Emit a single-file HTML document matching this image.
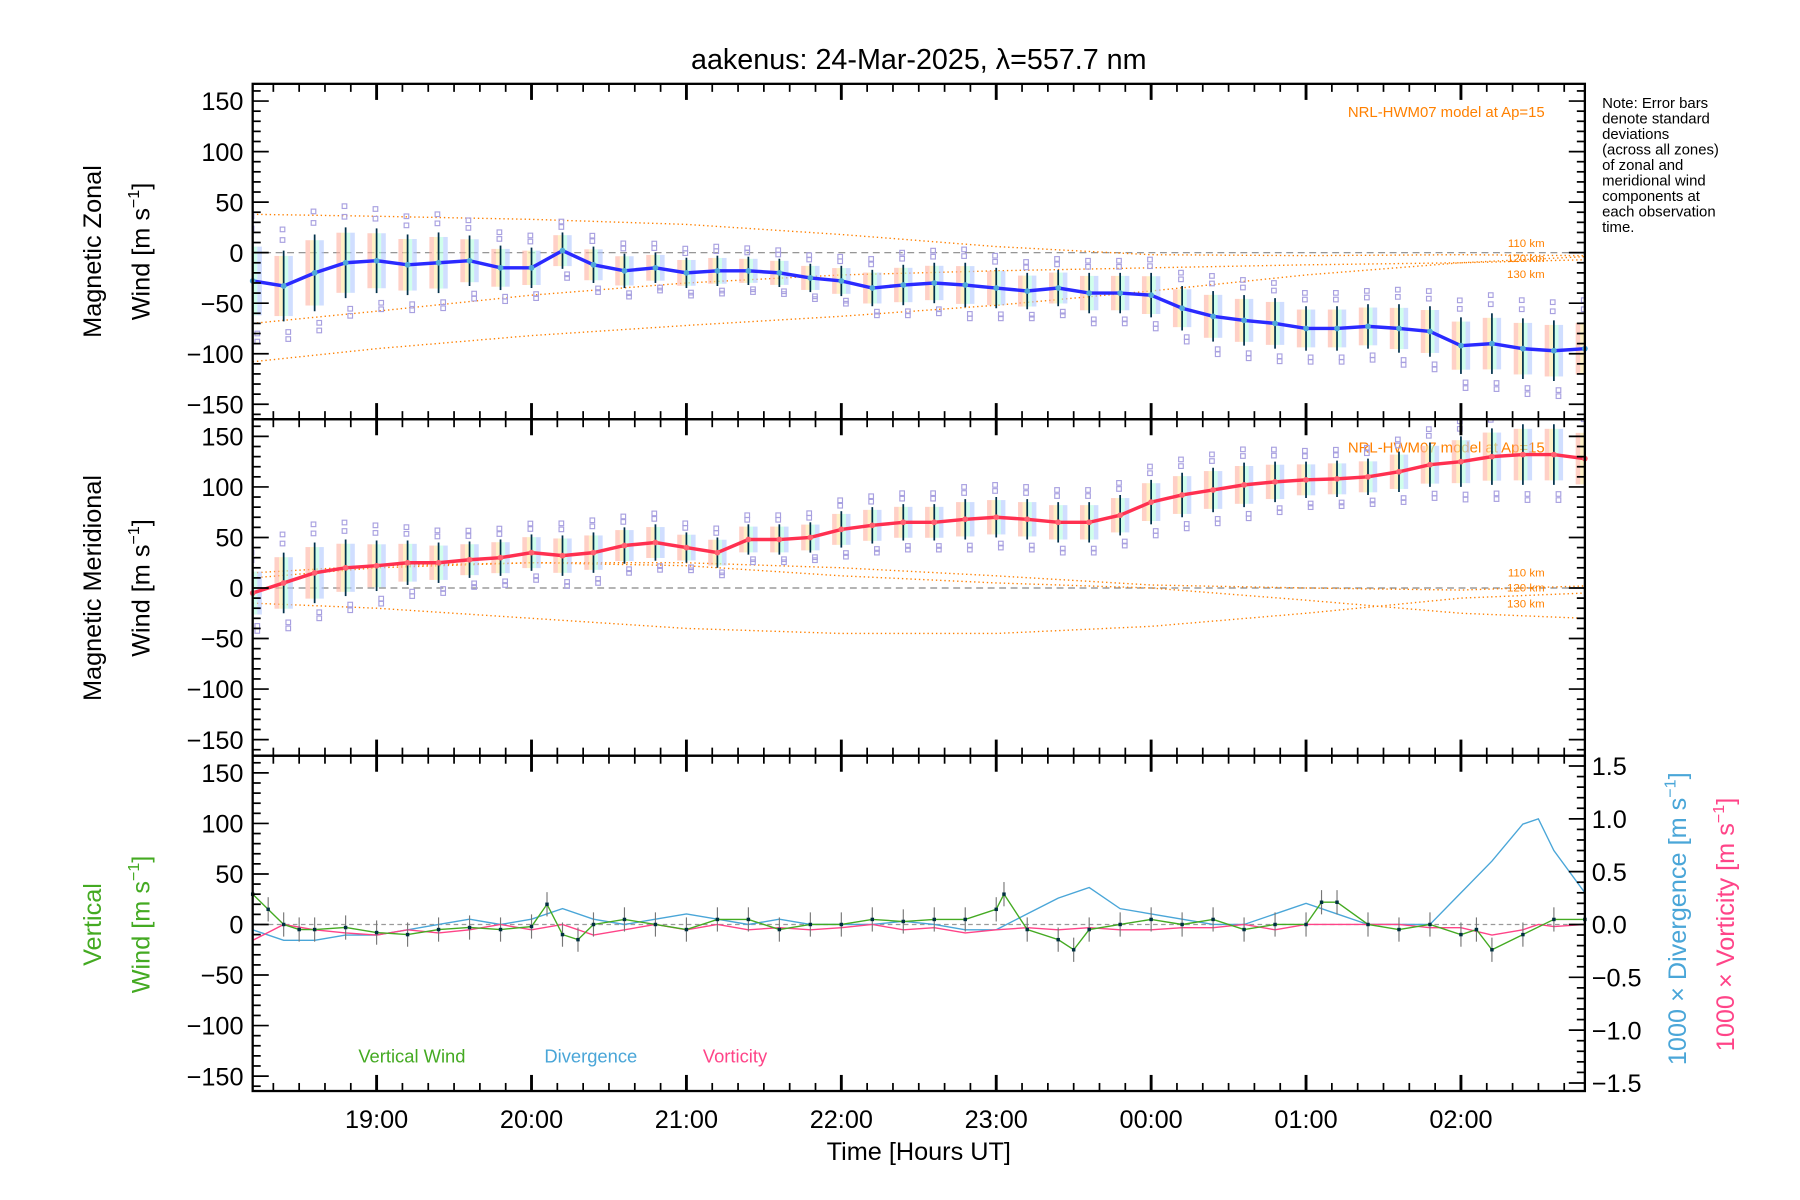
<!DOCTYPE html>
<html><head><meta charset="utf-8"><style>
html,body{margin:0;padding:0;background:#fff;}
svg{display:block;font-family:"Liberation Sans",sans-serif;}
</style></head><body>
<svg id="chart" width="1800" height="1200" viewBox="0 0 1567.3 1044.9" xmlns="http://www.w3.org/2000/svg">
<rect width="1568" height="1045" fill="#fff"/>
<text x="800" y="60" font-size="25" text-anchor="middle">aakenus: 24-Mar-2025, λ=557.7 nm</text>
<g id="layer"></g>
<text font-size="13" x="1395" y="94"><tspan x="1395" dy="0">Note: Error bars</tspan><tspan x="1395" dy="13.5">denote standard</tspan><tspan x="1395" dy="13.5">deviations</tspan><tspan x="1395" dy="13.5">(across all zones)</tspan><tspan x="1395" dy="13.5">of zonal and</tspan><tspan x="1395" dy="13.5">meridional wind</tspan><tspan x="1395" dy="13.5">components at</tspan><tspan x="1395" dy="13.5">each observation</tspan><tspan x="1395" dy="13.5">time.</tspan></text>
</svg>
<script>
// ---- data ----
const obsTimes = [18.2,18.4,18.6,18.8,19.0,19.2,19.4,19.6,19.8,20.0,20.2,20.4,20.6,20.8,21.0,21.2,21.4,21.6,21.8,22.0,22.2,22.4,22.6,22.8,23.0,23.2,23.4,23.6,23.8,24.0,24.2,24.4,24.6,24.8,25.0,25.2,25.4,25.6,25.8,26.0,26.2,26.4,26.6,26.8];
const zonalMean = [-28,-33,-20,-10,-8,-12,-10,-8,-15,-15,2,-12,-18,-15,-20,-18,-18,-20,-25,-28,-35,-32,-30,-32,-35,-38,-35,-40,-40,-42,-55,-63,-67,-70,-75,-75,-73,-75,-78,-92,-90,-95,-97,-95];
const zonalSd = [40,35,38,35,32,30,30,25,22,20,18,18,17,15,15,15,14,14,14,15,18,20,20,22,20,18,18,20,20,22,22,25,25,25,22,22,22,24,25,28,30,30,30,30];
const meridMean = [-5,5,15,20,22,25,25,28,30,35,32,35,42,45,40,35,48,48,50,58,62,65,65,68,70,68,65,65,72,85,92,97,102,105,107,108,110,115,122,125,130,132,132,128];
const meridSd = [25,30,30,28,25,22,20,18,18,18,20,20,18,18,15,15,15,15,15,18,18,18,18,20,20,20,20,20,20,22,22,22,22,20,18,18,18,20,22,25,28,30,30,30];
const vertTimes = [18.2,18.3,18.4,18.5,18.6,18.8,19.0,19.2,19.4,19.6,19.8,20.0,20.1,20.2,20.3,20.4,20.6,20.8,21.0,21.2,21.4,21.6,21.8,22.0,22.2,22.4,22.6,22.8,23.0,23.05,23.2,23.4,23.5,23.6,23.8,24.0,24.2,24.4,24.6,24.8,25.0,25.1,25.2,25.4,25.6,25.8,26.0,26.1,26.2,26.4,26.6,26.8];
const vertWind = [30,15,0,-5,-5,-3,-8,-10,-5,-3,-5,-2,20,-10,-15,0,5,0,-5,5,5,-5,0,0,5,3,5,5,15,30,-5,-15,-25,-5,0,5,0,5,-5,0,0,22,22,0,-5,0,-10,-5,-25,-10,5,5];
const divTimes = [18.2,18.4,18.6,18.8,19.0,19.2,19.4,19.6,19.8,20.0,20.2,20.4,20.6,20.8,21.0,21.2,21.4,21.6,21.8,22.0,22.2,22.4,22.6,22.8,23.0,23.2,23.4,23.6,23.8,24.0,24.2,24.4,24.6,24.8,25.0,25.2,25.4,25.6,25.8,26.0,26.2,26.4,26.5,26.6,26.8];
const divergence = [-0.05,-0.15,-0.15,-0.1,-0.1,-0.05,0,0.05,0,0.05,0.15,0.05,0,0.05,0.1,0.05,0,0.05,0,0,0,0.03,0,-0.05,-0.05,0.1,0.25,0.35,0.15,0.1,0.05,0,0,0.1,0.2,0.1,0,0,0,0.3,0.6,0.95,1.0,0.7,0.3];
const vorticity = [-0.15,0,-0.05,-0.08,-0.1,-0.05,-0.08,-0.05,0,-0.05,0,-0.1,-0.05,0,-0.05,0,-0.05,-0.03,-0.05,-0.03,0,-0.05,-0.03,-0.08,-0.05,-0.03,-0.05,-0.03,-0.05,-0.05,-0.03,-0.03,0,-0.05,0,0,0,0,-0.03,-0.03,-0.1,-0.05,0,-0.02,0];
const hwmTimes = [18.2,19.0,20.0,21.0,22.0,23.0,24.0,25.0,26.0,26.8];
const hwmZ110 = [38,36,33,28,18,6,-2,-3,-2,-3];
const hwmZ120 = [-70,-58,-42,-30,-22,-18,-15,-12,-10,-7];
const hwmZ130 = [-108,-95,-82,-72,-63,-52,-38,-22,-10,-4];
const hwmM110 = [15,22,25,25,20,12,3,0,-2,2];
const hwmM120 = [10,20,25,22,12,5,0,-12,-25,-30];
const hwmM130 = [-15,-20,-30,-40,-45,-45,-38,-25,-10,-5];
const xTickLabels = ['19:00','20:00','21:00','22:00','23:00','00:00','01:00','02:00'];
const xTickHours = [19,20,21,22,23,24,25,26];
const yTicks = [-150,-100,-50,0,50,100,150];
const rTicks = [-1.5,-1.0,-0.5,0.0,0.5,1.0,1.5];

// ---- geometry ----
const NS='http://www.w3.org/2000/svg';
const L=220,R=1380,T0=18.2,T1=26.8;
const panels=[{top:73,bot:365,c0:220},{top:365,bot:658,c0:512},{top:658,bot:950,c0:805}];
const YS=44/50;
const xs=t=>L+(t-T0)/(T1-T0)*(R-L);
const ys=(p,v)=>panels[p].c0-v*YS;
const yr=v=>805-v*(138/1.5);
const layer=document.getElementById('layer');
function el(tag,at,parent){const e=document.createElementNS(NS,tag);for(const k in at)e.setAttribute(k,at[k]);(parent||layer).appendChild(e);return e;}
const defs=el('defs',{});
panels.forEach((pn,i)=>{const c=el('clipPath',{id:'clip'+i},defs);el('rect',{x:L,y:pn.top,width:R-L,height:pn.bot-pn.top},c);});

function poly(p,times,vals,attrs,name,fy){
  const pts=times.map((t,i)=>xs(t).toFixed(1)+','+(fy?fy(vals[i]):ys(p,vals[i])).toFixed(1)).join(' ');
  const e=el('polyline',Object.assign({points:pts,fill:'none','clip-path':'url(#clip'+p+')'},attrs));
  
  
  return e;
}

[0,1].forEach(p=>{const z=el('line',{x1:L,x2:R,y1:ys(p,0),y2:ys(p,0),stroke:'#888','stroke-dasharray':'6,4','stroke-width':1});

});
{const z=el('line',{x1:L,x2:R,y1:805,y2:805,stroke:'#999','stroke-dasharray':'4,3','stroke-width':1});

}

[[0,hwmZ110],[0,hwmZ120],[0,hwmZ130],[1,hwmM110],[1,hwmM120],[1,hwmM130]].forEach(([p,a])=>poly(p,hwmTimes,a,{stroke:'#ff8000','stroke-width':1.2,'stroke-dasharray':'1.2,2.5'},'hwm-model-line'));
[[0,[212,225,239]],[1,[499,512,526]]].forEach(([p,yy])=>{['110 km','120 km','130 km'].forEach((s,i)=>{const t=el('text',{x:1345,y:yy[i]+3,'font-size':10,fill:'#ff8000','text-anchor':'end'});t.textContent=s;

});
const m=el('text',{x:1345,y:panels[p].top+29,'font-size':13,fill:'#ff8000','text-anchor':'end'});m.textContent='NRL-HWM07 model at Ap=15';

});

const bandCols=['#ffb0a0','#ffe8a0','#b0ffe0','#b0c8ff'];
function errPanel(p,mean,sd){
  obsTimes.forEach((t,i)=>{
    const x=xs(t),y1=ys(p,mean[i]+sd[i]),y2=ys(p,mean[i]-sd[i]);
    [-6,-2,2,6].forEach((dx,k)=>{const b=el('rect',{x:x+dx-2,y:ys(p,mean[i]+sd[i]*0.85),width:4,height:(y2-y1)*0.85,fill:bandCols[k],opacity:0.6,'clip-path':'url(#clip'+p+')'});
    
    });
    [1.3,-1.3,1.6,-1.5].forEach((f,k)=>{const s=el('rect',{x:x-3+(k%2)*5,y:ys(p,mean[i]+sd[i]*f)-2,width:4,height:4,fill:'none',stroke:'#a8a0e0','stroke-width':1,'clip-path':'url(#clip'+p+')'});
    
    });
    const e=el('line',{x1:x,x2:x,y1:y1,y2:y2,stroke:'#00304a','stroke-width':1.5,'clip-path':'url(#clip'+p+')'});
    
    
  });
}
errPanel(0,zonalMean,zonalSd);
errPanel(1,meridMean,meridSd);
poly(0,obsTimes,zonalMean,{stroke:'#2a2aff','stroke-width':3},'zonal-mean-line');
poly(1,obsTimes,meridMean,{stroke:'#ff3050','stroke-width':3},'meridional-mean-line');
obsTimes.forEach((t,i)=>{const c=el('circle',{cx:xs(t),cy:ys(0,zonalMean[i]),r:2.5,fill:'#50a8d8'});


const d=el('circle',{cx:xs(t),cy:ys(1,meridMean[i]),r:2.5,fill:'#ff6070'});

});

poly(2,divTimes,divergence,{stroke:'#4aa6d8','stroke-width':1.2},'divergence-line',yr);
poly(2,divTimes,vorticity,{stroke:'#ff4488','stroke-width':1.2},'vorticity-line',yr);
vertTimes.forEach((t,i)=>{const v=el('line',{x1:xs(t),x2:xs(t),y1:ys(2,vertWind[i]+12),y2:ys(2,vertWind[i]-12),stroke:'#777','stroke-width':1});

});
poly(2,vertTimes,vertWind,{stroke:'#44aa22','stroke-width':1.2},'vertical-wind-line');
vertTimes.forEach((t,i)=>{const c=el('rect',{x:xs(t)-1.5,y:ys(2,vertWind[i])-1.5,width:3,height:3,fill:'#003040'});

});
[['Vertical Wind',312,'#44aa22'],['Divergence',474,'#4aa6d8'],['Vorticity',612,'#ff4488']].forEach(([s,x,c])=>{const t=el('text',{x:x,y:925,'font-size':16,fill:c});t.textContent=s;

});

panels.forEach((pn,p)=>{
  const f=el('rect',{x:L,y:pn.top,width:R-L,height:pn.bot-pn.top,fill:'none',stroke:'#000','stroke-width':2});
  
  
  for(let v=-160;v<=160;v+=10){const y=ys(p,v);if(y<pn.top||y>pn.bot)continue;const big=v%50===0;const len=big?14:7;
    el('line',{x1:L,x2:L+len,y1:y,y2:y,stroke:'#000','stroke-width':1.5});
    if(p<2)el('line',{x1:R,x2:R-len,y1:y,y2:y,stroke:'#000','stroke-width':1.5});}
  yTicks.forEach(v=>{const t=el('text',{x:212,y:ys(p,v)+8,'font-size':22,'text-anchor':'end'});t.textContent=v===0?'0':(v<0?'\u2212'+(-v):v);
  
  });
  for(let m=T0*60;m<=T1*60;m+=10){const h=Math.round(m/10)*10/60;const x=xs(h);if(x<L||x>R)continue;const big=Math.round(h*60)%60===0;const len=big?14:7;
    el('line',{x1:x,x2:x,y1:pn.bot,y2:pn.bot-len,stroke:'#000','stroke-width':big?2.5:1.5});
    el('line',{x1:x,x2:x,y1:pn.top,y2:pn.top+len,stroke:'#000','stroke-width':big?2.5:1.5});}
});
for(let v=-1.5;v<=1.51;v+=0.1){const y=yr(v);const big=Math.abs(Math.round(v*10)%5)===0;el('line',{x1:R,x2:R-(big?14:7),y1:y,y2:y,stroke:'#000','stroke-width':1.5});}
rTicks.forEach(v=>{const t=el('text',{x:1386,y:yr(v)+8,'font-size':22});t.textContent=(v<0?'\u2212':'')+Math.abs(v).toFixed(1);

});
xTickHours.forEach((h,i)=>{const t=el('text',{x:xs(h),y:982,'font-size':22,'text-anchor':'middle'});t.textContent=xTickLabels[i];

});
{const t=el('text',{x:800,y:1010,'font-size':22,'text-anchor':'middle'});t.textContent='Time [Hours UT]';

}
function vtext(x,y,s,c,name){const t=el('text',{x:0,y:0,'font-size':22,'text-anchor':'middle',fill:c,transform:'translate('+x+','+y+') rotate(-90)'});t.innerHTML=s;

}
const unit='[m s<tspan font-size="14" dy="-9">−1</tspan><tspan dy="9">]</tspan>';
vtext(88,219,'Magnetic Zonal','#000','zonal-axis-title');
vtext(130,219,'Wind '+unit,'#000','zonal-axis-unit');
vtext(88,512,'Magnetic Meridional','#000','meridional-axis-title');
vtext(130,512,'Wind '+unit,'#000','meridional-axis-unit');
vtext(88,805,'Vertical','#44aa22','vertical-axis-title');
vtext(130,805,'Wind '+unit,'#44aa22','vertical-axis-unit');
vtext(1468,800,'1000 × Divergence '+unit,'#4aa6d8','divergence-axis-title');
vtext(1510,805,'1000 × Vorticity '+unit,'#ff4488','vorticity-axis-title');
</script>
</body></html>
